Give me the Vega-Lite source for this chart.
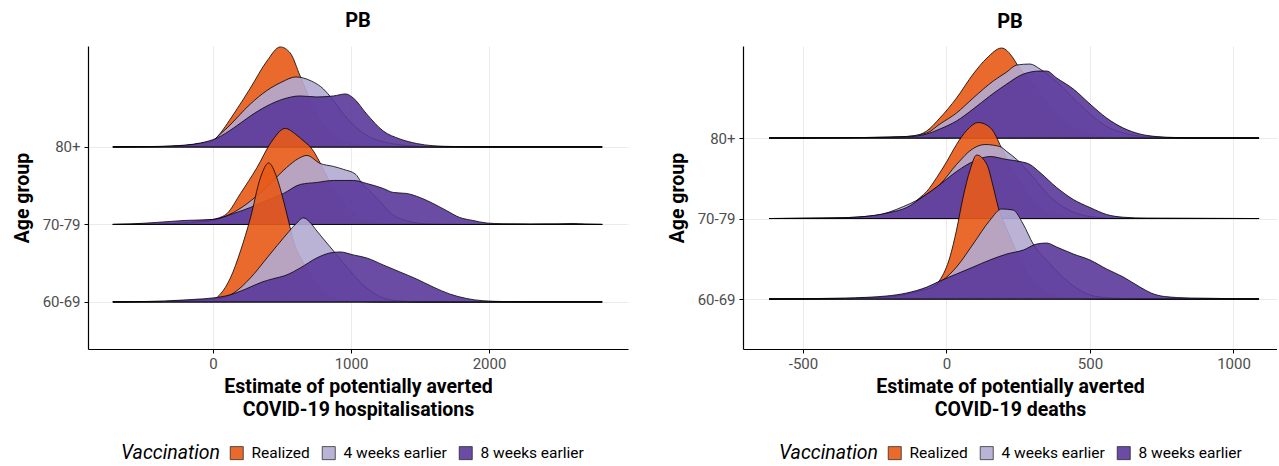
{
  "$schema": "https://vega.github.io/schema/vega-lite/v6.json",
  "padding": {"left": 12, "top": 11, "right": 0, "bottom": 0},
  "bounds": "flush",
  "spacing": 115,
  "datasets": {
    "hosp": [
      {"age":"80+","vaccination":"Realized","estimate":-726,"density":0},
      {"age":"80+","vaccination":"Realized","estimate":-400,"density":0.003},
      {"age":"80+","vaccination":"Realized","estimate":-200,"density":0.015},
      {"age":"80+","vaccination":"Realized","estimate":-90,"density":0.035},
      {"age":"80+","vaccination":"Realized","estimate":0,"density":0.06},
      {"age":"80+","vaccination":"Realized","estimate":30,"density":0.10},
      {"age":"80+","vaccination":"Realized","estimate":150,"density":0.33},
      {"age":"80+","vaccination":"Realized","estimate":271,"density":0.59},
      {"age":"80+","vaccination":"Realized","estimate":391,"density":0.86},
      {"age":"80+","vaccination":"Realized","estimate":487,"density":1.00},
      {"age":"80+","vaccination":"Realized","estimate":559,"density":0.94},
      {"age":"80+","vaccination":"Realized","estimate":631,"density":0.71},
      {"age":"80+","vaccination":"Realized","estimate":720,"density":0.42},
      {"age":"80+","vaccination":"Realized","estimate":800,"density":0.22},
      {"age":"80+","vaccination":"Realized","estimate":900,"density":0.09},
      {"age":"80+","vaccination":"Realized","estimate":1000,"density":0.035},
      {"age":"80+","vaccination":"Realized","estimate":1150,"density":0.01},
      {"age":"80+","vaccination":"Realized","estimate":1400,"density":0.002},
      {"age":"80+","vaccination":"Realized","estimate":1700,"density":0},
      {"age":"80+","vaccination":"Realized","estimate":2820,"density":0},
      {"age":"80+","vaccination":"4 weeks earlier","estimate":-726,"density":0},
      {"age":"80+","vaccination":"4 weeks earlier","estimate":-400,"density":0.003},
      {"age":"80+","vaccination":"4 weeks earlier","estimate":-200,"density":0.015},
      {"age":"80+","vaccination":"4 weeks earlier","estimate":-90,"density":0.035},
      {"age":"80+","vaccination":"4 weeks earlier","estimate":0,"density":0.06},
      {"age":"80+","vaccination":"4 weeks earlier","estimate":30,"density":0.10},
      {"age":"80+","vaccination":"4 weeks earlier","estimate":102,"density":0.19},
      {"age":"80+","vaccination":"4 weeks earlier","estimate":271,"density":0.43},
      {"age":"80+","vaccination":"4 weeks earlier","estimate":386,"density":0.56},
      {"age":"80+","vaccination":"4 weeks earlier","estimate":500,"density":0.65},
      {"age":"80+","vaccination":"4 weeks earlier","estimate":600,"density":0.70},
      {"age":"80+","vaccination":"4 weeks earlier","estimate":711,"density":0.66},
      {"age":"80+","vaccination":"4 weeks earlier","estimate":800,"density":0.58},
      {"age":"80+","vaccination":"4 weeks earlier","estimate":858,"density":0.49},
      {"age":"80+","vaccination":"4 weeks earlier","estimate":950,"density":0.32},
      {"age":"80+","vaccination":"4 weeks earlier","estimate":1050,"density":0.18},
      {"age":"80+","vaccination":"4 weeks earlier","estimate":1150,"density":0.09},
      {"age":"80+","vaccination":"4 weeks earlier","estimate":1271,"density":0.04},
      {"age":"80+","vaccination":"4 weeks earlier","estimate":1400,"density":0.015},
      {"age":"80+","vaccination":"4 weeks earlier","estimate":1600,"density":0.003},
      {"age":"80+","vaccination":"4 weeks earlier","estimate":1900,"density":0},
      {"age":"80+","vaccination":"4 weeks earlier","estimate":2820,"density":0},
      {"age":"80+","vaccination":"8 weeks earlier","estimate":-726,"density":0},
      {"age":"80+","vaccination":"8 weeks earlier","estimate":-500,"density":0.003},
      {"age":"80+","vaccination":"8 weeks earlier","estimate":-300,"density":0.01},
      {"age":"80+","vaccination":"8 weeks earlier","estimate":-90,"density":0.04},
      {"age":"80+","vaccination":"8 weeks earlier","estimate":30,"density":0.09},
      {"age":"80+","vaccination":"8 weeks earlier","estimate":150,"density":0.19},
      {"age":"80+","vaccination":"8 weeks earlier","estimate":271,"density":0.31},
      {"age":"80+","vaccination":"8 weeks earlier","estimate":391,"density":0.41},
      {"age":"80+","vaccination":"8 weeks earlier","estimate":511,"density":0.48},
      {"age":"80+","vaccination":"8 weeks earlier","estimate":631,"density":0.51},
      {"age":"80+","vaccination":"8 weeks earlier","estimate":751,"density":0.50},
      {"age":"80+","vaccination":"8 weeks earlier","estimate":872,"density":0.51},
      {"age":"80+","vaccination":"8 weeks earlier","estimate":960,"density":0.53},
      {"age":"80+","vaccination":"8 weeks earlier","estimate":1016,"density":0.49},
      {"age":"80+","vaccination":"8 weeks earlier","estimate":1113,"density":0.33},
      {"age":"80+","vaccination":"8 weeks earlier","estimate":1233,"density":0.16},
      {"age":"80+","vaccination":"8 weeks earlier","estimate":1354,"density":0.08},
      {"age":"80+","vaccination":"8 weeks earlier","estimate":1474,"density":0.035},
      {"age":"80+","vaccination":"8 weeks earlier","estimate":1594,"density":0.012},
      {"age":"80+","vaccination":"8 weeks earlier","estimate":1750,"density":0.004},
      {"age":"80+","vaccination":"8 weeks earlier","estimate":2000,"density":0},
      {"age":"80+","vaccination":"8 weeks earlier","estimate":2820,"density":0},
      {"age":"70-79","vaccination":"Realized","estimate":-726,"density":0},
      {"age":"70-79","vaccination":"Realized","estimate":-400,"density":0.003},
      {"age":"70-79","vaccination":"Realized","estimate":-200,"density":0.015},
      {"age":"70-79","vaccination":"Realized","estimate":-56,"density":0.04},
      {"age":"70-79","vaccination":"Realized","estimate":30,"density":0.06},
      {"age":"70-79","vaccination":"Realized","estimate":102,"density":0.11},
      {"age":"70-79","vaccination":"Realized","estimate":199,"density":0.31},
      {"age":"70-79","vaccination":"Realized","estimate":319,"density":0.57},
      {"age":"70-79","vaccination":"Realized","estimate":420,"density":0.82},
      {"age":"70-79","vaccination":"Realized","estimate":523,"density":0.96},
      {"age":"70-79","vaccination":"Realized","estimate":600,"density":0.90},
      {"age":"70-79","vaccination":"Realized","estimate":652,"density":0.84},
      {"age":"70-79","vaccination":"Realized","estimate":725,"density":0.74},
      {"age":"70-79","vaccination":"Realized","estimate":755,"density":0.67},
      {"age":"70-79","vaccination":"Realized","estimate":829,"density":0.47},
      {"age":"70-79","vaccination":"Realized","estimate":917,"density":0.26},
      {"age":"70-79","vaccination":"Realized","estimate":1035,"density":0.09},
      {"age":"70-79","vaccination":"Realized","estimate":1150,"density":0.03},
      {"age":"70-79","vaccination":"Realized","estimate":1300,"density":0.008},
      {"age":"70-79","vaccination":"Realized","estimate":1500,"density":0},
      {"age":"70-79","vaccination":"Realized","estimate":2820,"density":0},
      {"age":"70-79","vaccination":"4 weeks earlier","estimate":-726,"density":0},
      {"age":"70-79","vaccination":"4 weeks earlier","estimate":-400,"density":0.003},
      {"age":"70-79","vaccination":"4 weeks earlier","estimate":-200,"density":0.015},
      {"age":"70-79","vaccination":"4 weeks earlier","estimate":0,"density":0.04},
      {"age":"70-79","vaccination":"4 weeks earlier","estimate":121,"density":0.10},
      {"age":"70-79","vaccination":"4 weeks earlier","estimate":239,"density":0.20},
      {"age":"70-79","vaccination":"4 weeks earlier","estimate":386,"density":0.37},
      {"age":"70-79","vaccination":"4 weeks earlier","estimate":534,"density":0.57},
      {"age":"70-79","vaccination":"4 weeks earlier","estimate":620,"density":0.66},
      {"age":"70-79","vaccination":"4 weeks earlier","estimate":680,"density":0.69},
      {"age":"70-79","vaccination":"4 weeks earlier","estimate":776,"density":0.61},
      {"age":"70-79","vaccination":"4 weeks earlier","estimate":873,"density":0.58},
      {"age":"70-79","vaccination":"4 weeks earlier","estimate":947,"density":0.55},
      {"age":"70-79","vaccination":"4 weeks earlier","estimate":1035,"density":0.50},
      {"age":"70-79","vaccination":"4 weeks earlier","estimate":1065,"density":0.44},
      {"age":"70-79","vaccination":"4 weeks earlier","estimate":1183,"density":0.27},
      {"age":"70-79","vaccination":"4 weeks earlier","estimate":1301,"density":0.10},
      {"age":"70-79","vaccination":"4 weeks earlier","estimate":1419,"density":0.03},
      {"age":"70-79","vaccination":"4 weeks earlier","estimate":1566,"density":0.005},
      {"age":"70-79","vaccination":"4 weeks earlier","estimate":1800,"density":0},
      {"age":"70-79","vaccination":"4 weeks earlier","estimate":2820,"density":0},
      {"age":"70-79","vaccination":"8 weeks earlier","estimate":-726,"density":0},
      {"age":"70-79","vaccination":"8 weeks earlier","estimate":-600,"density":0.005},
      {"age":"70-79","vaccination":"8 weeks earlier","estimate":-410,"density":0.02},
      {"age":"70-79","vaccination":"8 weeks earlier","estimate":-204,"density":0.04},
      {"age":"70-79","vaccination":"8 weeks earlier","estimate":0,"density":0.05},
      {"age":"70-79","vaccination":"8 weeks earlier","estimate":150,"density":0.11},
      {"age":"70-79","vaccination":"8 weeks earlier","estimate":271,"density":0.17},
      {"age":"70-79","vaccination":"8 weeks earlier","estimate":391,"density":0.24},
      {"age":"70-79","vaccination":"8 weeks earlier","estimate":511,"density":0.31},
      {"age":"70-79","vaccination":"8 weeks earlier","estimate":632,"density":0.40},
      {"age":"70-79","vaccination":"8 weeks earlier","estimate":752,"density":0.42},
      {"age":"70-79","vaccination":"8 weeks earlier","estimate":873,"density":0.44},
      {"age":"70-79","vaccination":"8 weeks earlier","estimate":1017,"density":0.44},
      {"age":"70-79","vaccination":"8 weeks earlier","estimate":1113,"density":0.41},
      {"age":"70-79","vaccination":"8 weeks earlier","estimate":1233,"density":0.36},
      {"age":"70-79","vaccination":"8 weeks earlier","estimate":1306,"density":0.32},
      {"age":"70-79","vaccination":"8 weeks earlier","estimate":1402,"density":0.31},
      {"age":"70-79","vaccination":"8 weeks earlier","estimate":1498,"density":0.27},
      {"age":"70-79","vaccination":"8 weeks earlier","estimate":1594,"density":0.21},
      {"age":"70-79","vaccination":"8 weeks earlier","estimate":1690,"density":0.14},
      {"age":"70-79","vaccination":"8 weeks earlier","estimate":1787,"density":0.07},
      {"age":"70-79","vaccination":"8 weeks earlier","estimate":1883,"density":0.04},
      {"age":"70-79","vaccination":"8 weeks earlier","estimate":1979,"density":0.015},
      {"age":"70-79","vaccination":"8 weeks earlier","estimate":2100,"density":0.007},
      {"age":"70-79","vaccination":"8 weeks earlier","estimate":2300,"density":0.005},
      {"age":"70-79","vaccination":"8 weeks earlier","estimate":2500,"density":0.006},
      {"age":"70-79","vaccination":"8 weeks earlier","estimate":2600,"density":0.01},
      {"age":"70-79","vaccination":"8 weeks earlier","estimate":2700,"density":0.004},
      {"age":"70-79","vaccination":"8 weeks earlier","estimate":2820,"density":0},
      {"age":"60-69","vaccination":"Realized","estimate":-726,"density":0},
      {"age":"60-69","vaccination":"Realized","estimate":-400,"density":0.003},
      {"age":"60-69","vaccination":"Realized","estimate":-200,"density":0.01},
      {"age":"60-69","vaccination":"Realized","estimate":-90,"density":0.02},
      {"age":"60-69","vaccination":"Realized","estimate":8,"density":0.03},
      {"age":"60-69","vaccination":"Realized","estimate":54,"density":0.08},
      {"age":"60-69","vaccination":"Realized","estimate":126,"density":0.24},
      {"age":"60-69","vaccination":"Realized","estimate":199,"density":0.51},
      {"age":"60-69","vaccination":"Realized","estimate":271,"density":0.84},
      {"age":"60-69","vaccination":"Realized","estimate":343,"density":1.24},
      {"age":"60-69","vaccination":"Realized","estimate":403,"density":1.39},
      {"age":"60-69","vaccination":"Realized","estimate":463,"density":1.24},
      {"age":"60-69","vaccination":"Realized","estimate":511,"density":1.01},
      {"age":"60-69","vaccination":"Realized","estimate":547,"density":0.81},
      {"age":"60-69","vaccination":"Realized","estimate":583,"density":0.61},
      {"age":"60-69","vaccination":"Realized","estimate":680,"density":0.34},
      {"age":"60-69","vaccination":"Realized","estimate":776,"density":0.14},
      {"age":"60-69","vaccination":"Realized","estimate":873,"density":0.04},
      {"age":"60-69","vaccination":"Realized","estimate":1000,"density":0.01},
      {"age":"60-69","vaccination":"Realized","estimate":1200,"density":0},
      {"age":"60-69","vaccination":"Realized","estimate":2820,"density":0},
      {"age":"60-69","vaccination":"4 weeks earlier","estimate":-726,"density":0},
      {"age":"60-69","vaccination":"4 weeks earlier","estimate":-400,"density":0.003},
      {"age":"60-69","vaccination":"4 weeks earlier","estimate":-200,"density":0.01},
      {"age":"60-69","vaccination":"4 weeks earlier","estimate":-90,"density":0.02},
      {"age":"60-69","vaccination":"4 weeks earlier","estimate":54,"density":0.035},
      {"age":"60-69","vaccination":"4 weeks earlier","estimate":150,"density":0.09},
      {"age":"60-69","vaccination":"4 weeks earlier","estimate":271,"density":0.24},
      {"age":"60-69","vaccination":"4 weeks earlier","estimate":391,"density":0.44},
      {"age":"60-69","vaccination":"4 weeks earlier","estimate":535,"density":0.68},
      {"age":"60-69","vaccination":"4 weeks earlier","estimate":600,"density":0.78},
      {"age":"60-69","vaccination":"4 weeks earlier","estimate":656,"density":0.84},
      {"age":"60-69","vaccination":"4 weeks earlier","estimate":700,"density":0.80},
      {"age":"60-69","vaccination":"4 weeks earlier","estimate":752,"density":0.71},
      {"age":"60-69","vaccination":"4 weeks earlier","estimate":873,"density":0.51},
      {"age":"60-69","vaccination":"4 weeks earlier","estimate":993,"density":0.31},
      {"age":"60-69","vaccination":"4 weeks earlier","estimate":1113,"density":0.14},
      {"age":"60-69","vaccination":"4 weeks earlier","estimate":1233,"density":0.04},
      {"age":"60-69","vaccination":"4 weeks earlier","estimate":1350,"density":0.01},
      {"age":"60-69","vaccination":"4 weeks earlier","estimate":1500,"density":0},
      {"age":"60-69","vaccination":"4 weeks earlier","estimate":2820,"density":0},
      {"age":"60-69","vaccination":"8 weeks earlier","estimate":-726,"density":0},
      {"age":"60-69","vaccination":"8 weeks earlier","estimate":-500,"density":0.004},
      {"age":"60-69","vaccination":"8 weeks earlier","estimate":-351,"density":0.01},
      {"age":"60-69","vaccination":"8 weeks earlier","estimate":-145,"density":0.025},
      {"age":"60-69","vaccination":"8 weeks earlier","estimate":0,"density":0.04},
      {"age":"60-69","vaccination":"8 weeks earlier","estimate":121,"density":0.07},
      {"age":"60-69","vaccination":"8 weeks earlier","estimate":239,"density":0.13},
      {"age":"60-69","vaccination":"8 weeks earlier","estimate":357,"density":0.20},
      {"age":"60-69","vaccination":"8 weeks earlier","estimate":431,"density":0.23},
      {"age":"60-69","vaccination":"8 weeks earlier","estimate":534,"density":0.27},
      {"age":"60-69","vaccination":"8 weeks earlier","estimate":632,"density":0.34},
      {"age":"60-69","vaccination":"8 weeks earlier","estimate":752,"density":0.44},
      {"age":"60-69","vaccination":"8 weeks earlier","estimate":848,"density":0.49},
      {"age":"60-69","vaccination":"8 weeks earlier","estimate":920,"density":0.50},
      {"age":"60-69","vaccination":"8 weeks earlier","estimate":1017,"density":0.47},
      {"age":"60-69","vaccination":"8 weeks earlier","estimate":1113,"density":0.44},
      {"age":"60-69","vaccination":"8 weeks earlier","estimate":1233,"density":0.37},
      {"age":"60-69","vaccination":"8 weeks earlier","estimate":1354,"density":0.30},
      {"age":"60-69","vaccination":"8 weeks earlier","estimate":1474,"density":0.23},
      {"age":"60-69","vaccination":"8 weeks earlier","estimate":1594,"density":0.15},
      {"age":"60-69","vaccination":"8 weeks earlier","estimate":1714,"density":0.08},
      {"age":"60-69","vaccination":"8 weeks earlier","estimate":1835,"density":0.035},
      {"age":"60-69","vaccination":"8 weeks earlier","estimate":1955,"density":0.012},
      {"age":"60-69","vaccination":"8 weeks earlier","estimate":2100,"density":0.004},
      {"age":"60-69","vaccination":"8 weeks earlier","estimate":2300,"density":0},
      {"age":"60-69","vaccination":"8 weeks earlier","estimate":2820,"density":0}
    ],
    "deaths": [
      {"age":"80+","vaccination":"Realized","estimate":-618,"density":0},
      {"age":"80+","vaccination":"Realized","estimate":-400,"density":0.002},
      {"age":"80+","vaccination":"Realized","estimate":-250,"density":0.006},
      {"age":"80+","vaccination":"Realized","estimate":-160,"density":0.012},
      {"age":"80+","vaccination":"Realized","estimate":-116,"density":0.02},
      {"age":"80+","vaccination":"Realized","estimate":-69,"density":0.07},
      {"age":"80+","vaccination":"Realized","estimate":-23,"density":0.20},
      {"age":"80+","vaccination":"Realized","estimate":35,"density":0.40},
      {"age":"80+","vaccination":"Realized","estimate":93,"density":0.64},
      {"age":"80+","vaccination":"Realized","estimate":141,"density":0.80},
      {"age":"80+","vaccination":"Realized","estimate":192,"density":0.90},
      {"age":"80+","vaccination":"Realized","estimate":232,"density":0.80},
      {"age":"80+","vaccination":"Realized","estimate":245,"density":0.74},
      {"age":"80+","vaccination":"Realized","estimate":300,"density":0.55},
      {"age":"80+","vaccination":"Realized","estimate":360,"density":0.32},
      {"age":"80+","vaccination":"Realized","estimate":430,"density":0.13},
      {"age":"80+","vaccination":"Realized","estimate":500,"density":0.04},
      {"age":"80+","vaccination":"Realized","estimate":600,"density":0.005},
      {"age":"80+","vaccination":"Realized","estimate":750,"density":0},
      {"age":"80+","vaccination":"Realized","estimate":1089,"density":0},
      {"age":"80+","vaccination":"4 weeks earlier","estimate":-618,"density":0},
      {"age":"80+","vaccination":"4 weeks earlier","estimate":-400,"density":0.002},
      {"age":"80+","vaccination":"4 weeks earlier","estimate":-250,"density":0.006},
      {"age":"80+","vaccination":"4 weeks earlier","estimate":-160,"density":0.012},
      {"age":"80+","vaccination":"4 weeks earlier","estimate":-69,"density":0.05},
      {"age":"80+","vaccination":"4 weeks earlier","estimate":-23,"density":0.14},
      {"age":"80+","vaccination":"4 weeks earlier","estimate":35,"density":0.25},
      {"age":"80+","vaccination":"4 weeks earlier","estimate":93,"density":0.40},
      {"age":"80+","vaccination":"4 weeks earlier","estimate":163,"density":0.57},
      {"age":"80+","vaccination":"4 weeks earlier","estimate":210,"density":0.66},
      {"age":"80+","vaccination":"4 weeks earlier","estimate":245,"density":0.73},
      {"age":"80+","vaccination":"4 weeks earlier","estimate":291,"density":0.74},
      {"age":"80+","vaccination":"4 weeks earlier","estimate":326,"density":0.69},
      {"age":"80+","vaccination":"4 weeks earlier","estimate":400,"density":0.52},
      {"age":"80+","vaccination":"4 weeks earlier","estimate":470,"density":0.32},
      {"age":"80+","vaccination":"4 weeks earlier","estimate":550,"density":0.13},
      {"age":"80+","vaccination":"4 weeks earlier","estimate":640,"density":0.035},
      {"age":"80+","vaccination":"4 weeks earlier","estimate":720,"density":0.01},
      {"age":"80+","vaccination":"4 weeks earlier","estimate":850,"density":0},
      {"age":"80+","vaccination":"4 weeks earlier","estimate":1089,"density":0},
      {"age":"80+","vaccination":"8 weeks earlier","estimate":-618,"density":0},
      {"age":"80+","vaccination":"8 weeks earlier","estimate":-400,"density":0.002},
      {"age":"80+","vaccination":"8 weeks earlier","estimate":-250,"density":0.006},
      {"age":"80+","vaccination":"8 weeks earlier","estimate":-139,"density":0.012},
      {"age":"80+","vaccination":"8 weeks earlier","estimate":-69,"density":0.04},
      {"age":"80+","vaccination":"8 weeks earlier","estimate":-23,"density":0.09},
      {"age":"80+","vaccination":"8 weeks earlier","estimate":35,"density":0.17},
      {"age":"80+","vaccination":"8 weeks earlier","estimate":93,"density":0.29},
      {"age":"80+","vaccination":"8 weeks earlier","estimate":151,"density":0.42},
      {"age":"80+","vaccination":"8 weeks earlier","estimate":210,"density":0.54},
      {"age":"80+","vaccination":"8 weeks earlier","estimate":268,"density":0.64},
      {"age":"80+","vaccination":"8 weeks earlier","estimate":326,"density":0.67},
      {"age":"80+","vaccination":"8 weeks earlier","estimate":349,"density":0.67},
      {"age":"80+","vaccination":"8 weeks earlier","estimate":384,"density":0.60},
      {"age":"80+","vaccination":"8 weeks earlier","estimate":442,"density":0.49},
      {"age":"80+","vaccination":"8 weeks earlier","estimate":500,"density":0.34},
      {"age":"80+","vaccination":"8 weeks earlier","estimate":558,"density":0.20},
      {"age":"80+","vaccination":"8 weeks earlier","estimate":616,"density":0.10},
      {"age":"80+","vaccination":"8 weeks earlier","estimate":674,"density":0.04},
      {"age":"80+","vaccination":"8 weeks earlier","estimate":730,"density":0.015},
      {"age":"80+","vaccination":"8 weeks earlier","estimate":800,"density":0.005},
      {"age":"80+","vaccination":"8 weeks earlier","estimate":900,"density":0.001},
      {"age":"80+","vaccination":"8 weeks earlier","estimate":1089,"density":0},
      {"age":"70-79","vaccination":"Realized","estimate":-618,"density":0},
      {"age":"70-79","vaccination":"Realized","estimate":-400,"density":0.003},
      {"age":"70-79","vaccination":"Realized","estimate":-250,"density":0.02},
      {"age":"70-79","vaccination":"Realized","estimate":-150,"density":0.08},
      {"age":"70-79","vaccination":"Realized","estimate":-92,"density":0.21},
      {"age":"70-79","vaccination":"Realized","estimate":-69,"density":0.27},
      {"age":"70-79","vaccination":"Realized","estimate":-34,"density":0.41},
      {"age":"70-79","vaccination":"Realized","estimate":1,"density":0.57},
      {"age":"70-79","vaccination":"Realized","estimate":35,"density":0.74},
      {"age":"70-79","vaccination":"Realized","estimate":70,"density":0.88},
      {"age":"70-79","vaccination":"Realized","estimate":111,"density":0.96},
      {"age":"70-79","vaccination":"Realized","estimate":152,"density":0.91},
      {"age":"70-79","vaccination":"Realized","estimate":175,"density":0.81},
      {"age":"70-79","vaccination":"Realized","estimate":186,"density":0.74},
      {"age":"70-79","vaccination":"Realized","estimate":230,"density":0.50},
      {"age":"70-79","vaccination":"Realized","estimate":290,"density":0.22},
      {"age":"70-79","vaccination":"Realized","estimate":350,"density":0.07},
      {"age":"70-79","vaccination":"Realized","estimate":430,"density":0.015},
      {"age":"70-79","vaccination":"Realized","estimate":550,"density":0},
      {"age":"70-79","vaccination":"Realized","estimate":1089,"density":0},
      {"age":"70-79","vaccination":"4 weeks earlier","estimate":-618,"density":0},
      {"age":"70-79","vaccination":"4 weeks earlier","estimate":-400,"density":0.005},
      {"age":"70-79","vaccination":"4 weeks earlier","estimate":-250,"density":0.03},
      {"age":"70-79","vaccination":"4 weeks earlier","estimate":-150,"density":0.12},
      {"age":"70-79","vaccination":"4 weeks earlier","estimate":-69,"density":0.24},
      {"age":"70-79","vaccination":"4 weeks earlier","estimate":-23,"density":0.34},
      {"age":"70-79","vaccination":"4 weeks earlier","estimate":35,"density":0.54},
      {"age":"70-79","vaccination":"4 weeks earlier","estimate":93,"density":0.70},
      {"age":"70-79","vaccination":"4 weeks earlier","estimate":134,"density":0.74},
      {"age":"70-79","vaccination":"4 weeks earlier","estimate":186,"density":0.72},
      {"age":"70-79","vaccination":"4 weeks earlier","estimate":210,"density":0.67},
      {"age":"70-79","vaccination":"4 weeks earlier","estimate":245,"density":0.59},
      {"age":"70-79","vaccination":"4 weeks earlier","estimate":300,"density":0.42},
      {"age":"70-79","vaccination":"4 weeks earlier","estimate":360,"density":0.22},
      {"age":"70-79","vaccination":"4 weeks earlier","estimate":430,"density":0.08},
      {"age":"70-79","vaccination":"4 weeks earlier","estimate":500,"density":0.02},
      {"age":"70-79","vaccination":"4 weeks earlier","estimate":600,"density":0.003},
      {"age":"70-79","vaccination":"4 weeks earlier","estimate":1089,"density":0},
      {"age":"70-79","vaccination":"8 weeks earlier","estimate":-618,"density":0},
      {"age":"70-79","vaccination":"8 weeks earlier","estimate":-500,"density":0.003},
      {"age":"70-79","vaccination":"8 weeks earlier","estimate":-371,"density":0.007},
      {"age":"70-79","vaccination":"8 weeks earlier","estimate":-255,"density":0.03},
      {"age":"70-79","vaccination":"8 weeks earlier","estimate":-197,"density":0.06},
      {"age":"70-79","vaccination":"8 weeks earlier","estimate":-139,"density":0.11},
      {"age":"70-79","vaccination":"8 weeks earlier","estimate":-81,"density":0.22},
      {"age":"70-79","vaccination":"8 weeks earlier","estimate":-23,"density":0.34},
      {"age":"70-79","vaccination":"8 weeks earlier","estimate":35,"density":0.47},
      {"age":"70-79","vaccination":"8 weeks earlier","estimate":93,"density":0.57},
      {"age":"70-79","vaccination":"8 weeks earlier","estimate":152,"density":0.62},
      {"age":"70-79","vaccination":"8 weeks earlier","estimate":210,"density":0.59},
      {"age":"70-79","vaccination":"8 weeks earlier","estimate":256,"density":0.57},
      {"age":"70-79","vaccination":"8 weeks earlier","estimate":291,"density":0.54},
      {"age":"70-79","vaccination":"8 weeks earlier","estimate":326,"density":0.46},
      {"age":"70-79","vaccination":"8 weeks earlier","estimate":384,"density":0.31},
      {"age":"70-79","vaccination":"8 weeks earlier","estimate":442,"density":0.19},
      {"age":"70-79","vaccination":"8 weeks earlier","estimate":500,"density":0.11},
      {"age":"70-79","vaccination":"8 weeks earlier","estimate":558,"density":0.04},
      {"age":"70-79","vaccination":"8 weeks earlier","estimate":616,"density":0.013},
      {"age":"70-79","vaccination":"8 weeks earlier","estimate":700,"density":0.003},
      {"age":"70-79","vaccination":"8 weeks earlier","estimate":1089,"density":0},
      {"age":"60-69","vaccination":"Realized","estimate":-618,"density":0},
      {"age":"60-69","vaccination":"Realized","estimate":-400,"density":0.002},
      {"age":"60-69","vaccination":"Realized","estimate":-250,"density":0.01},
      {"age":"60-69","vaccination":"Realized","estimate":-150,"density":0.04},
      {"age":"60-69","vaccination":"Realized","estimate":-80,"density":0.09},
      {"age":"60-69","vaccination":"Realized","estimate":-46,"density":0.12},
      {"age":"60-69","vaccination":"Realized","estimate":-23,"density":0.19},
      {"age":"60-69","vaccination":"Realized","estimate":12,"density":0.42},
      {"age":"60-69","vaccination":"Realized","estimate":35,"density":0.69},
      {"age":"60-69","vaccination":"Realized","estimate":58,"density":1.02},
      {"age":"60-69","vaccination":"Realized","estimate":82,"density":1.29},
      {"age":"60-69","vaccination":"Realized","estimate":105,"density":1.44},
      {"age":"60-69","vaccination":"Realized","estimate":140,"density":1.35},
      {"age":"60-69","vaccination":"Realized","estimate":163,"density":1.12},
      {"age":"60-69","vaccination":"Realized","estimate":180,"density":0.92},
      {"age":"60-69","vaccination":"Realized","estimate":216,"density":0.66},
      {"age":"60-69","vaccination":"Realized","estimate":258,"density":0.39},
      {"age":"60-69","vaccination":"Realized","estimate":301,"density":0.19},
      {"age":"60-69","vaccination":"Realized","estimate":358,"density":0.06},
      {"age":"60-69","vaccination":"Realized","estimate":430,"density":0.01},
      {"age":"60-69","vaccination":"Realized","estimate":550,"density":0},
      {"age":"60-69","vaccination":"Realized","estimate":1089,"density":0},
      {"age":"60-69","vaccination":"4 weeks earlier","estimate":-618,"density":0},
      {"age":"60-69","vaccination":"4 weeks earlier","estimate":-400,"density":0.002},
      {"age":"60-69","vaccination":"4 weeks earlier","estimate":-250,"density":0.01},
      {"age":"60-69","vaccination":"4 weeks earlier","estimate":-150,"density":0.04},
      {"age":"60-69","vaccination":"4 weeks earlier","estimate":-80,"density":0.09},
      {"age":"60-69","vaccination":"4 weeks earlier","estimate":-46,"density":0.12},
      {"age":"60-69","vaccination":"4 weeks earlier","estimate":-11,"density":0.19},
      {"age":"60-69","vaccination":"4 weeks earlier","estimate":35,"density":0.32},
      {"age":"60-69","vaccination":"4 weeks earlier","estimate":93,"density":0.55},
      {"age":"60-69","vaccination":"4 weeks earlier","estimate":152,"density":0.79},
      {"age":"60-69","vaccination":"4 weeks earlier","estimate":192,"density":0.90},
      {"age":"60-69","vaccination":"4 weeks earlier","estimate":232,"density":0.89},
      {"age":"60-69","vaccination":"4 weeks earlier","estimate":267,"density":0.75},
      {"age":"60-69","vaccination":"4 weeks earlier","estimate":302,"density":0.55},
      {"age":"60-69","vaccination":"4 weeks earlier","estimate":358,"density":0.36},
      {"age":"60-69","vaccination":"4 weeks earlier","estimate":429,"density":0.16},
      {"age":"60-69","vaccination":"4 weeks earlier","estimate":500,"density":0.04},
      {"age":"60-69","vaccination":"4 weeks earlier","estimate":570,"density":0.01},
      {"age":"60-69","vaccination":"4 weeks earlier","estimate":700,"density":0},
      {"age":"60-69","vaccination":"4 weeks earlier","estimate":1089,"density":0},
      {"age":"60-69","vaccination":"8 weeks earlier","estimate":-618,"density":0},
      {"age":"60-69","vaccination":"8 weeks earlier","estimate":-450,"density":0.005},
      {"age":"60-69","vaccination":"8 weeks earlier","estimate":-352,"density":0.01},
      {"age":"60-69","vaccination":"8 weeks earlier","estimate":-210,"density":0.03},
      {"age":"60-69","vaccination":"8 weeks earlier","estimate":-139,"density":0.06},
      {"age":"60-69","vaccination":"8 weeks earlier","estimate":-68,"density":0.12},
      {"age":"60-69","vaccination":"8 weeks earlier","estimate":-23,"density":0.18},
      {"age":"60-69","vaccination":"8 weeks earlier","estimate":35,"density":0.25},
      {"age":"60-69","vaccination":"8 weeks earlier","estimate":93,"density":0.32},
      {"age":"60-69","vaccination":"8 weeks earlier","estimate":151,"density":0.39},
      {"age":"60-69","vaccination":"8 weeks earlier","estimate":210,"density":0.45},
      {"age":"60-69","vaccination":"8 weeks earlier","estimate":268,"density":0.49},
      {"age":"60-69","vaccination":"8 weeks earlier","estimate":314,"density":0.55},
      {"age":"60-69","vaccination":"8 weeks earlier","estimate":349,"density":0.56},
      {"age":"60-69","vaccination":"8 weeks earlier","estimate":384,"density":0.52},
      {"age":"60-69","vaccination":"8 weeks earlier","estimate":442,"density":0.45},
      {"age":"60-69","vaccination":"8 weeks earlier","estimate":500,"density":0.39},
      {"age":"60-69","vaccination":"8 weeks earlier","estimate":558,"density":0.30},
      {"age":"60-69","vaccination":"8 weeks earlier","estimate":616,"density":0.22},
      {"age":"60-69","vaccination":"8 weeks earlier","estimate":674,"density":0.12},
      {"age":"60-69","vaccination":"8 weeks earlier","estimate":713,"density":0.06},
      {"age":"60-69","vaccination":"8 weeks earlier","estimate":760,"density":0.025},
      {"age":"60-69","vaccination":"8 weeks earlier","estimate":850,"density":0.01},
      {"age":"60-69","vaccination":"8 weeks earlier","estimate":926,"density":0.007},
      {"age":"60-69","vaccination":"8 weeks earlier","estimate":1000,"density":0.003},
      {"age":"60-69","vaccination":"8 weeks earlier","estimate":1089,"density":0}
    ]
  },
  "resolve": {"scale": {"color": "independent"}, "legend": {"color": "independent"}},
  "hconcat": [
    {
      "width": 540,
      "height": 303,
      "title": {"text": "PB"},
      "data": {"name": "hosp"},
      "mark": {"type": "area", "orient": "vertical", "interpolate": "monotone", "stroke": "black", "strokeWidth": 0.8, "fillOpacity": 0.9},
      "encoding": {
        "x": {"field": "estimate", "type": "quantitative", "stack": null,
              "scale": {"domain": [-906, 3007], "nice": false, "zero": false},
              "axis": {"values": [0, 1000, 2000], "labelExpr": "'' + datum.value", "title": ["Estimate of potentially averted", "COVID-19 hospitalisations"]}},
        "y": {"field": "age", "type": "nominal", "sort": ["80+", "70-79", "60-69"],
              "scale": {"type": "point", "padding": 0.955, "align": 0.682},
              "axis": {"title": "Age group"}},
        "y2": {"field": "age"},
        "yOffset": {"field": "density", "type": "quantitative", "scale": {"domain": [0, 3.03], "range": [0, -303], "nice": false, "zero": true}},
        "color": {"field": "vaccination", "type": "nominal",
                  "scale": {"domain": ["Realized", "4 weeks earlier", "8 weeks earlier"], "range": ["#E85A17", "#B2ABD2", "#5B399B"]},
                  "legend": {"title": "Vaccination", "orient": "none", "legendX": 33, "legendY": 399}},
        "detail": {"field": "age"}
      }
    },
    {
      "width": 534,
      "height": 303,
      "title": {"text": "PB"},
      "data": {"name": "deaths"},
      "mark": {"type": "area", "orient": "vertical", "interpolate": "monotone", "stroke": "black", "strokeWidth": 0.8, "fillOpacity": 0.9},
      "encoding": {
        "x": {"field": "estimate", "type": "quantitative", "stack": null,
              "scale": {"domain": [-709, 1151.6], "nice": false, "zero": false},
              "axis": {"values": [-500, 0, 500, 1000], "labelExpr": "'' + datum.value", "title": ["Estimate of potentially averted", "COVID-19 deaths"]}},
        "y": {"field": "age", "type": "nominal", "sort": ["80+", "70-79", "60-69"],
              "scale": {"type": "point", "padding": 0.882, "align": 0.648},
              "axis": {"title": "Age group"}},
        "y2": {"field": "age"},
        "yOffset": {"field": "density", "type": "quantitative", "scale": {"domain": [0, 3.03], "range": [0, -303], "nice": false, "zero": true}},
        "color": {"field": "vaccination", "type": "nominal",
                  "scale": {"domain": ["Realized", "4 weeks earlier", "8 weeks earlier"], "range": ["#E85A17", "#B2ABD2", "#5B399B"]},
                  "legend": {"title": "Vaccination", "orient": "none", "legendX": 36, "legendY": 399}},
        "detail": {"field": "age"}
      }
    }
  ],
  "config": {
    "font": "Roboto",
    "view": {"stroke": null},
    "title": {"fontSize": 20, "fontWeight": "bold", "color": "black", "anchor": "middle", "offset": 14, "font": "Roboto"},
    "axis": {
      "domainColor": "black", "domainWidth": 1.2, "tickColor": "black", "tickSize": 4, "tickWidth": 1,
      "labelColor": "#4D4D4D", "labelFontSize": 15, "labelFont": "Roboto",
      "titleFontSize": 19.5, "titleFontWeight": "bold", "titleColor": "black", "titleFont": "Roboto", "titleLineHeight": 23,
      "grid": true, "gridColor": "#EBEBEB", "gridWidth": 1
    },
    "axisX": {"titlePadding": 6, "labelPadding": 3},
    "axisY": {"titlePadding": 10, "labelPadding": 4},
    "legend": {
      "direction": "horizontal", "titleOrient": "left",
      "titleFontStyle": "italic", "titleFontWeight": "normal", "titleFontSize": 19.5, "titleColor": "black", "titleFont": "Roboto",
      "labelFontSize": 15.5, "labelColor": "black", "labelFont": "Roboto",
      "symbolType": "square", "symbolSize": 170, "symbolStrokeColor": "black", "symbolStrokeWidth": 0.7, "symbolOpacity": 0.9,
      "columnPadding": 10, "labelOffset": 7, "titlePadding": 8
    }
  }
}
